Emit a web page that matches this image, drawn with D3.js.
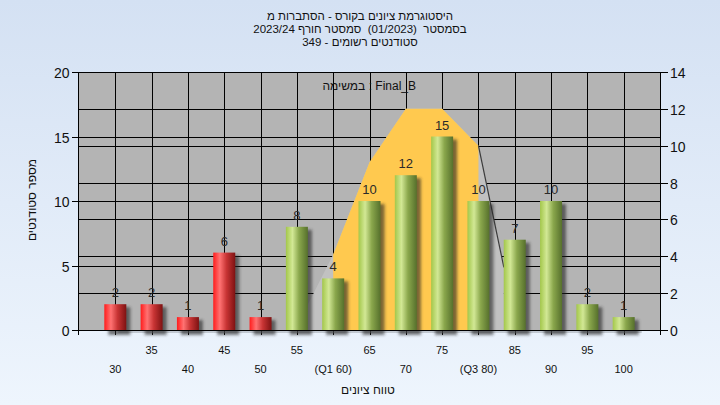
<!DOCTYPE html>
<html><head><meta charset="utf-8">
<script src="https://cdn.jsdelivr.net/npm/d3@7"></script>
<style>
body{margin:0;background:#fff;}
svg{display:block;font-family:"Liberation Sans",Arial,sans-serif;}
text{white-space:pre;}
</style>
</head><body>
<svg id="c" width="720" height="405"></svg>
<script>
// ---- data ----
const categories = [30,35,40,45,50,55,60,65,70,75,80,85,90,95,100];
const categoryLabels = ["30","35","40","45","50","55","(Q1 60)","65","70","75","(Q3 80)","85","90","95","100"];
const counts = [2,2,1,6,1,8,4,10,12,15,10,7,10,2,1];
const passMark = 55;
const leftTicks = [0,5,10,15,20];
const rightTicks = [0,2,4,6,8,10,12,14];
const curveX = [55,60,65,70,75,80,83.5];
const curveY = [0.2,4.1,9.1,12,12,10,3.4];
const q1 = 60, q3 = 80;
const titleLines = ["היסטוגרמת ציונים בקורס - הסתברות מ","בסמסטר  (01/2023)  סמסטר חורף 2023/24","סטודנטים רשומים - 349"];
const subTitle = "במשימה : Final_B";
const yTitle = "מספר סטודנטים";
const xTitle = "טווח ציונים";

// ---- layout ----
const W=720,H=405;
const L=78.5,R=660,T=72,B=330;
const svg=d3.select("#c");
const defs=svg.append("defs");
const bg=defs.append("linearGradient").attr("id","bg").attr("x1",0).attr("y1",0).attr("x2",0).attr("y2",1);
bg.append("stop").attr("offset","0%").attr("stop-color","#d4e1f3");
bg.append("stop").attr("offset","100%").attr("stop-color","#eef5fd");
function cyl(id,c0,c1,c2,c3){
  const g=defs.append("linearGradient").attr("id",id).attr("x1",0).attr("y1",0).attr("x2",1).attr("y2",0);
  g.append("stop").attr("offset","0%").attr("stop-color",c0);
  g.append("stop").attr("offset","30%").attr("stop-color",c1);
  g.append("stop").attr("offset","60%").attr("stop-color",c2);
  g.append("stop").attr("offset","100%").attr("stop-color",c3);
}
cyl("red","#ff1c1c","#ff7272","#c83434","#7e1212");
cyl("green","#a3c74a","#d2e895","#8aa74c","#56702c");
const f=defs.append("filter").attr("id","sh").attr("x","-50%").attr("y","-50%").attr("width","200%").attr("height","200%");
f.append("feGaussianBlur").attr("stdDeviation",1.6);

svg.append("rect").attr("width",W).attr("height",H).attr("fill","url(#bg)");

const x=d3.scaleLinear().domain([25,105]).range([79,660]);
const yL=d3.scaleLinear().domain([0,20]).range([B,T]);
const yR=d3.scaleLinear().domain([0,14]).range([B,T]);

// plot background
svg.append("rect").attr("x",L).attr("y",T).attr("width",R-L).attr("height",B-T).attr("fill","#b4b4b4");

// grid
const grid=svg.append("g").attr("stroke","#000").attr("stroke-width",1).attr("shape-rendering","crispEdges");
leftTicks.forEach(t=>grid.append("line").attr("x1",L).attr("x2",R).attr("y1",Math.round(yL(t))+0.5).attr("y2",Math.round(yL(t))+0.5));
rightTicks.forEach(t=>grid.append("line").attr("x1",L).attr("x2",R).attr("y1",Math.round(yR(t))+0.5).attr("y2",Math.round(yR(t))+0.5));
categories.forEach(c=>grid.append("line").attr("x1",Math.round(x(c))+0.5).attr("x2",Math.round(x(c))+0.5).attr("y1",T).attr("y2",B+5));

// curve areas
const pts=curveX.map((v,i)=>[v,curveY[i]]);
const area=d3.area().x(d=>x(d[0])).y0(B).y1(d=>yR(d[1]));
svg.append("path").attr("d",area(pts)).attr("fill","#c1c1c1");
function interp(v){for(let i=0;i<pts.length-1;i++){if(v>=pts[i][0]&&v<=pts[i+1][0]){const t=(v-pts[i][0])/(pts[i+1][0]-pts[i][0]);return pts[i][1]+t*(pts[i+1][1]-pts[i][1]);}}return 0;}
const inner=[[q1,interp(q1)]].concat(pts.filter(p=>p[0]>q1&&p[0]<q3)).concat([[q3,interp(q3)]]);
svg.append("path").attr("d",area(inner)).attr("fill","#ffc94f");
svg.append("path").attr("d",d3.line().x(d=>x(d[0])).y(d=>yR(d[1]))(pts.filter(p=>p[0]>=q3)))
  .attr("fill","none").attr("stroke","#3c3c3c").attr("stroke-width",1.2);

// bottom faint line
svg.append("line").attr("x1",x(30)+3).attr("x2",x(100)+18).attr("y1",B+2).attr("y2",B+2).attr("stroke","#9aa0a8").attr("stroke-width",1);

// bars
const bw=22;
const data=categories.map((c,i)=>({c,v:counts[i]}));
svg.append("g").selectAll("rect").data(data).join("rect")
  .attr("x",d=>x(d.c)-bw/2+4).attr("y",d=>yL(d.v)+3).attr("width",bw).attr("height",d=>B-yL(d.v)+2)
  .attr("fill","#222").attr("opacity",0.6).attr("filter","url(#sh)");
svg.append("g").selectAll("rect").data(data).join("rect")
  .attr("x",d=>x(d.c)-bw/2).attr("y",d=>yL(d.v)).attr("width",bw).attr("height",d=>B-yL(d.v))
  .attr("fill",d=>d.c<passMark?"url(#red)":"url(#green)");
svg.append("g").selectAll("text").data(data).join("text")
  .attr("x",d=>x(d.c)).attr("y",d=>yL(d.v)-7).attr("text-anchor","middle")
  .attr("font-size",13).attr("fill","#2a2a2a").text(d=>d.v);

// axes
const ax=svg.append("g").attr("stroke","#000").attr("shape-rendering","crispEdges");
ax.append("line").attr("x1",L).attr("x2",L).attr("y1",T).attr("y2",B+5);
ax.append("line").attr("x1",R+0.5).attr("x2",R+0.5).attr("y1",T).attr("y2",B+5);
ax.append("line").attr("x1",L).attr("x2",R).attr("y1",B+0.5).attr("y2",B+0.5);
const lt=svg.append("g");
leftTicks.forEach(t=>{
  const y=Math.round(yL(t))+0.5;
  ax.append("line").attr("x1",L-7).attr("x2",L).attr("y1",y).attr("y2",y);
  lt.append("text").attr("x",L-9).attr("y",y).attr("dy","0.36em").attr("text-anchor","end").attr("font-size",14).attr("fill","#111").text(t);
});
rightTicks.forEach(t=>{
  const y=Math.round(yR(t))+0.5;
  ax.append("line").attr("x1",R).attr("x2",R+8).attr("y1",y).attr("y2",y);
  lt.append("text").attr("x",R+10).attr("y",y).attr("dy","0.36em").attr("text-anchor","start").attr("font-size",14).attr("fill","#111").text(t);
});
categories.forEach((c,i)=>{
  lt.append("text").attr("x",x(c)).attr("y",i%2===1?350:369).attr("dy","0.36em").attr("text-anchor","middle")
    .attr("font-size",11).attr("fill","#111").text(categoryLabels[i]);
});

// titles
titleLines.forEach((s,i)=>svg.append("text").attr("x",360).attr("y",20+i*13).attr("text-anchor","middle").attr("font-size",11.5).attr("fill","#111").text(s));
svg.append("text").attr("x",(L+R)/2).attr("y",90).attr("text-anchor","middle").attr("font-size",12).attr("fill","#111").text(subTitle);
svg.append("text").attr("transform","translate(36,200) rotate(-90)").attr("text-anchor","middle").attr("font-size",12).attr("fill","#111").text(yTitle);
svg.append("text").attr("x",368).attr("y",394).attr("text-anchor","middle").attr("font-size",12).attr("fill","#111").text(xTitle);
</script>
</body></html>
